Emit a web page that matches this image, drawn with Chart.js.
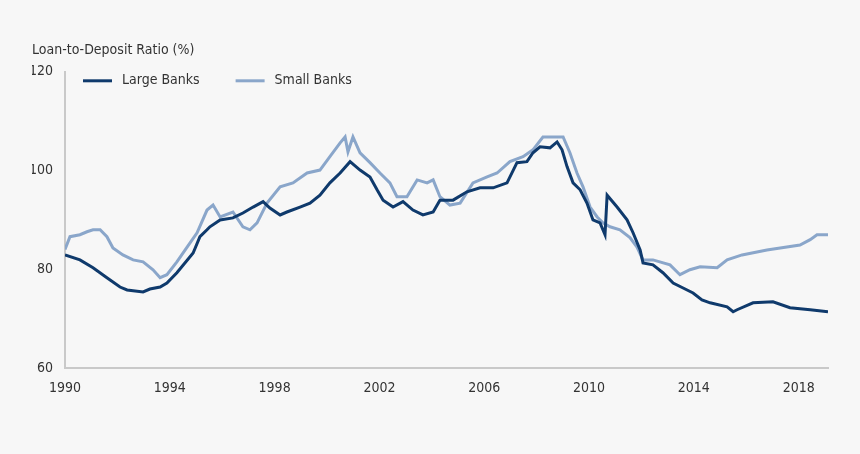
<!DOCTYPE html>
<html>
<head>
<meta charset="utf-8">
<script src="https://cdn.jsdelivr.net/npm/chart.js@4/dist/chart.umd.min.js"></script>
<style>
  html, body { margin: 0; padding: 0; background: #f7f7f7; }
  #wrap { width: 860px; height: 454px; }
</style>
</head>
<body>
<div id="wrap"><canvas id="ldrChart"></canvas></div>
<script>
const largeYears = [1990.0, 1990.57, 1991.07, 1991.6, 1992.1, 1992.37, 1992.98, 1993.24, 1993.63, 1993.89,
  1994.27, 1994.89, 1995.15, 1995.42, 1995.53, 1995.92, 1996.41, 1996.79, 1997.18, 1997.56,
  1997.82, 1998.21, 1998.47, 1998.97, 1999.35, 1999.73, 2000.11, 2000.5, 2000.88, 2001.26,
  2001.64, 2001.91, 2002.14, 2002.52, 2002.9, 2003.28, 2003.66, 2004.05, 2004.31, 2004.81,
  2005.34, 2005.84, 2006.34, 2006.87, 2007.25, 2007.63, 2007.86, 2008.13, 2008.51, 2008.78,
  2008.97, 2009.16, 2009.39, 2009.66, 2009.92, 2010.15, 2010.42, 2010.61, 2010.69, 2011.07,
  2011.45, 2011.68, 2011.95, 2012.06, 2012.44, 2012.82, 2013.21, 2013.59, 2013.97, 2014.31,
  2014.62, 2015.27, 2015.5, 2015.65, 2016.26, 2017.02, 2017.67, 2018.44, 2019.12];
const largeValues = [82.9, 81.9, 80.3, 78.3, 76.4, 75.8, 75.4, 76, 76.4, 77.2,
  79.3, 83.3, 86.6, 88, 88.6, 90, 90.4, 91.4, 92.6, 93.7,
  92.4, 91, 91.6, 92.6, 93.4, 95, 97.5, 99.5, 101.8, 100.1,
  98.7, 96.1, 94, 92.6, 93.7, 92, 91, 91.6, 94, 94,
  95.7, 96.5, 96.5, 97.5, 101.6, 101.8, 103.6, 104.8, 104.6, 105.8,
  104.2, 100.8, 97.5, 96.1, 93.4, 90, 89.4, 87, 95, 92.6,
  90, 87.4, 83.9, 81.3, 80.9, 79.3, 77.2, 76.2, 75.2, 73.8,
  73.2, 72.4, 71.4, 71.8, 73.2, 73.4, 72.2, 71.8, 71.4];

const smallYears = [1990.0, 1990.19, 1990.57, 1990.84, 1991.07, 1991.34, 1991.6, 1991.83, 1992.21, 1992.6,
  1992.98, 1993.36, 1993.63, 1993.89, 1994.27, 1994.66, 1995.04, 1995.42, 1995.65, 1995.92,
  1996.41, 1996.79, 1997.06, 1997.33, 1997.71, 1998.21, 1998.7, 1999.24, 1999.73, 2000.11,
  2000.5, 2000.69, 2000.8, 2000.99, 2001.26, 2001.64, 2002.02, 2002.4, 2002.67, 2003.05,
  2003.44, 2003.82, 2004.05, 2004.31, 2004.69, 2005.08, 2005.57, 2006.11, 2006.49, 2006.98,
  2007.48, 2007.86, 2008.24, 2009.01, 2009.27, 2009.54, 2009.77, 2010.04, 2010.31, 2010.53,
  2010.8, 2011.18, 2011.56, 2011.83, 2012.06, 2012.44, 2013.09, 2013.47, 2013.85, 2014.24,
  2014.89, 2015.27, 2015.84, 2016.79, 2018.05, 2018.44, 2018.7, 2019.12];
const smallValues = [84, 86.6, 87, 87.6, 88, 88, 86.6, 84.3, 82.9, 81.9,
  81.5, 79.9, 78.3, 78.9, 81.5, 84.5, 87.4, 92, 93, 90.6,
  91.6, 88.6, 88, 89.4, 93.4, 96.7, 97.5, 99.5, 100.1, 102.8,
  105.6, 106.8, 103.8, 106.8, 103.6, 101.6, 99.5, 97.5, 94.7, 94.7,
  98.1, 97.5, 98.1, 94.7, 93, 93.4, 97.5, 98.7, 99.5, 101.8,
  102.8, 104.2, 106.8, 106.8, 103.6, 99.5, 96.7, 92.6, 90.6, 89.4,
  88.6, 88, 86.4, 84.5, 81.9, 81.9, 80.9, 78.9, 79.9, 80.5,
  80.3, 81.9, 82.9, 83.9, 84.9, 86, 87, 87];

const xTicks = [1990, 1994, 1998, 2002, 2006, 2010, 2014, 2018];
const yTicks = [60, 80, 100, 120];
const seriesNames = ['Large Banks', 'Small Banks'];
const seriesColors = ['#0f3a6c', '#8aa6ca'];

const FONT = "'Liberation Sans Narrow', 'DejaVu Sans Condensed', sans-serif";

// legend drawn inside the plot, top-left
const innerLegend = {
  id: 'innerLegend',
  afterDraw(chart) {
    const ctx = chart.ctx;
    const area = chart.chartArea;
    const y = area.top + 9;
    let x = area.left + 18;
    ctx.save();
    ctx.font = '14px ' + FONT;
    ctx.textBaseline = 'middle';
    chart.data.datasets.forEach(function (ds) {
      ctx.strokeStyle = ds.borderColor;
      ctx.lineWidth = 3;
      ctx.beginPath();
      ctx.moveTo(x, y);
      ctx.lineTo(x + 29, y);
      ctx.stroke();
      ctx.fillStyle = '#333333';
      ctx.fillText(ds.label, x + 39, y);
      x += 39 + ctx.measureText(ds.label).width + 36;
    });
    ctx.restore();
  }
};

const bgFill = {
  id: 'bgFill',
  beforeDraw(chart) {
    const ctx = chart.ctx;
    ctx.save();
    ctx.fillStyle = '#f7f7f7';
    ctx.fillRect(0, 0, chart.width, chart.height);
    ctx.restore();
  }
};

document.addEventListener('DOMContentLoaded', function () {
  const el = document.getElementById('ldrChart');
  new Chart(el, {
    type: 'line',
    data: {
      datasets: [
        {
          label: seriesNames[0],
          data: largeYears.map((x, i) => ({ x: x, y: largeValues[i] })),
          borderColor: seriesColors[0],
          borderWidth: 3,
          pointRadius: 0,
          tension: 0,
          order: 1
        },
        {
          label: seriesNames[1],
          data: smallYears.map((x, i) => ({ x: x, y: smallValues[i] })),
          borderColor: seriesColors[1],
          borderWidth: 3,
          pointRadius: 0,
          tension: 0,
          order: 2
        }
      ]
    },
    options: {
      responsive: true,
      maintainAspectRatio: false,
      animation: false,
      layout: { padding: { top: 42, left: 32, right: 32, bottom: 57 } },
      plugins: {
        legend: { display: false },
        tooltip: { enabled: false },
        title: {
          display: true,
          text: 'Loan-to-Deposit Ratio (%)',
          align: 'start',
          color: '#333333',
          font: { family: FONT, size: 14, weight: 'normal' },
          padding: { top: 0, bottom: 13 }
        }
      },
      scales: {
        x: {
          type: 'linear',
          min: 1990,
          max: 2019.12,
          afterBuildTicks: function (axis) { axis.ticks = xTicks.map(v => ({ value: v })); },
          afterFit: function (axis) { axis.height = 29; },
          grid: { display: false, drawTicks: false },
          border: { display: true, color: '#c9c9c9', width: 2 },
          ticks: {
            padding: 12,
            color: '#333333',
            maxRotation: 0,
            autoSkip: false,
            font: { family: FONT, size: 14 },
            callback: v => String(v)
          }
        },
        y: {
          min: 60,
          max: 120,
          afterBuildTicks: function (axis) { axis.ticks = yTicks.map(v => ({ value: v })); },
          afterFit: function (axis) { axis.width = 33; },
          grid: { display: false, drawTicks: false },
          border: { display: true, color: '#c9c9c9', width: 2 },
          ticks: {
            padding: 12,
            color: '#333333',
            font: { family: FONT, size: 14 },
            callback: v => String(v)
          }
        }
      }
    },
    plugins: [bgFill, innerLegend]
  });
});
</script>
</body>
</html>
